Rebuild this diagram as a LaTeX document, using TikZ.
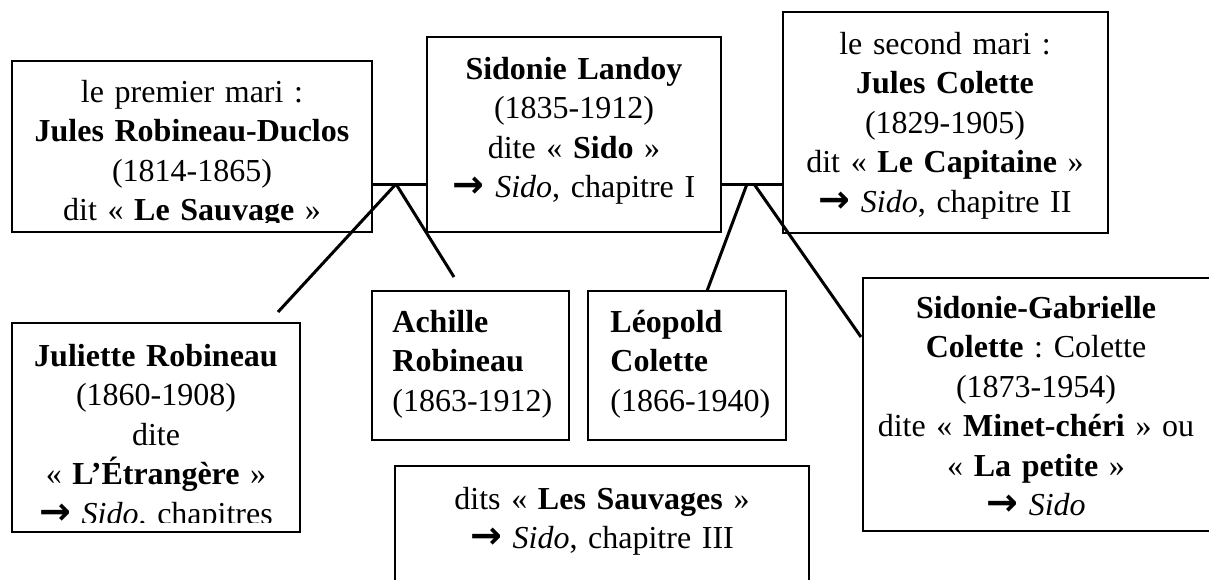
\documentclass[tikz,border=0pt]{standalone}
\usepackage{fontspec}
\setmainfont{Liberation Serif}
\newfontfamily\fleche{DejaVu Sans}
\usetikzlibrary{fit}
\frenchspacing
\tikzset{%
    boi/.style={draw, line width=0.9pt, inner sep=0pt},
    txt/.style={inner sep=0pt, align=center, font=\fontsize{16}{19.75}\selectfont},
    txg/.style={inner sep=0pt, align=left, font=\fontsize{16}{19.75}\selectfont},
    lia/.style={line width=1.5pt},
}
\newcommand{\surnom}[1]{«~\textbf{#1}~»}
\newcommand{\renvoi}{{\fleche\bfseries\fontsize{19}{19.75}\selectfont →}~}
\begin{document}
\begin{tikzpicture}[x=0.5pt,y=-0.5pt]
    \useasboundingbox (0,0) rectangle (1209,579);
    \clip (0,0) rectangle (1209,579);
    % boites
    \node[boi, fit={(12,61) (372,232)}] (premier) {};
    \node[boi, fit={(427,37) (721,232)}] (sido) {};
    \node[boi, fit={(783,12) (1108,233)}] (second) {};
    \node[boi, fit={(12,323) (300,532)}] (juliette) {};
    \node[boi, fit={(372,291) (569,440)}] (achille) {};
    \node[boi, fit={(588,291) (786,440)}] (leopold) {};
    \node[boi, fit={(863,278) (1214,531)}] (colette) {};
    \node[boi, fit={(395,466) (809,600)}] (sauvages) {};
    % textes
    \begin{scope}
        \clip (premier.north west) rectangle ([yshift=5pt]premier.south east);
        \node[txt, text width=170pt, anchor=base] (tPremier) at (192,102) {le premier mari :\\ \textbf{Jules Robineau-Duclos}\\ (1814-1865)\\ dit \surnom{Le Sauvage}};
    \end{scope}
    \node[txt, text width=140pt, anchor=base] (tSido) at (574,79) {\textbf{Sidonie Landoy}\\ (1835-1912)\\ dite \surnom{Sido}\\ \renvoi\textit{Sido}, chapitre I};
    \node[txt, text width=155pt, anchor=base] (tSecond) at (945,54) {le second mari :\\ \textbf{Jules Colette}\\ (1829-1905)\\ dit \surnom{Le Capitaine}\\ \renvoi\textit{Sido}, chapitre II};
    \begin{scope}
        \clip (juliette.north west) rectangle ([yshift=5pt]juliette.south east);
        \node[txt, text width=135pt, anchor=base] (tJuliette) at (156,366) {\textbf{Juliette Robineau}\\ (1860-1908)\\ dite\\ \surnom{L’Étrangère}\\ \renvoi\textit{Sido}, chapitres};
    \end{scope}
    \node[txg, text width=85pt, anchor=base west] (tAchille) at (392,332) {\textbf{Achille}\\ \textbf{Robineau}\\ (1863-1912)};
    \node[txg, text width=85pt, anchor=base west] (tLeopold) at (610,332) {\textbf{Léopold}\\ \textbf{Colette}\\ (1866-1940)};
    \node[txt, text width=165pt, anchor=base] (tColette) at (1036,318) {\textbf{Sidonie-Gabrielle}\\ \textbf{Colette} : Colette\\ (1873-1954)\\ dite \surnom{Minet-chéri} ou\\ \surnom{La petite}\\ \renvoi\textit{Sido}};
    \node[txt, text width=200pt, anchor=base] (tSauvages) at (602,509) {dits \surnom{Les Sauvages}\\ \renvoi\textit{Sido}, chapitre III};
    % liens
    \coordinate (jA) at (396,184);
    \coordinate (jB) at (747,184);
    \coordinate (jC) at (754,184);
    \coordinate (fJ) at (278,312);
    \coordinate (fA) at (454,277);
    \coordinate (fL) at (707,291);
    \coordinate (fG) at (861,337);
    \draw[lia] (premier.east |- jA) -- (sido.west |- jA);
    \draw[lia] (sido.east |- jB) -- (second.west |- jB);
    \draw[lia] (jA) -- (fJ);
    \draw[lia] (jA) -- (fA);
    \draw[lia] (jB) -- (fL);
    \draw[lia] (jC) -- (fG);
\end{tikzpicture}
\end{document}
